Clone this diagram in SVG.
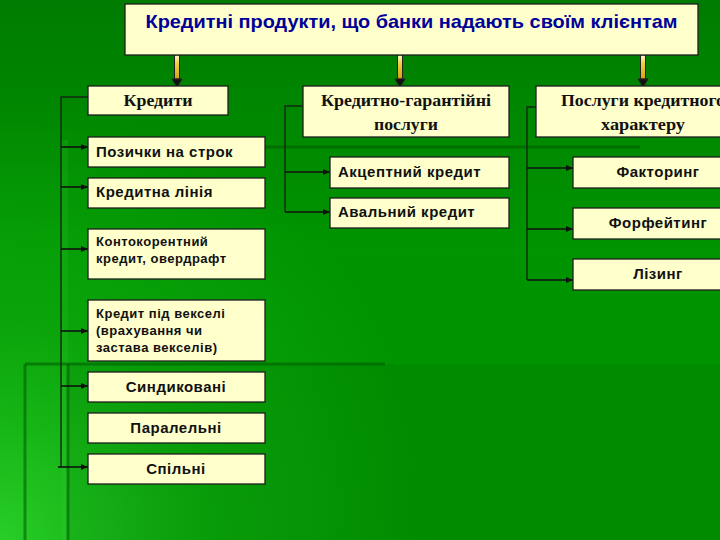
<svg xmlns="http://www.w3.org/2000/svg" width="720" height="540" viewBox="0 0 720 540">
<defs>
  <linearGradient id="bgv" x1="0" y1="0" x2="0" y2="1">
    <stop offset="0" stop-color="#007c00"/>
    <stop offset="0.45" stop-color="#009400"/>
    <stop offset="1" stop-color="#009200"/>
  </linearGradient>
  <radialGradient id="glow" cx="0" cy="540" r="440" gradientUnits="userSpaceOnUse">
    <stop offset="0" stop-color="#33dd33" stop-opacity="0.8"/>
    <stop offset="0.5" stop-color="#22cc22" stop-opacity="0.3"/>
    <stop offset="1" stop-color="#22cc22" stop-opacity="0"/>
  </radialGradient>
  <linearGradient id="shaft" x1="0" y1="0" x2="0" y2="1">
    <stop offset="0" stop-color="#fff8d0"/>
    <stop offset="0.35" stop-color="#f0d040"/>
    <stop offset="1" stop-color="#d8a010"/>
  </linearGradient>
  <marker id="ah" markerWidth="8" markerHeight="8" refX="7" refY="4" orient="auto" markerUnits="userSpaceOnUse">
    <path d="M0,1 L7,4 L0,7 Z" fill="#111"/>
  </marker>
  <style>
    .box{fill:#ffffcc;stroke:#1e1e1e;stroke-width:1.3}
    .sans{font-family:"Liberation Sans",Arial,sans-serif;font-weight:bold;fill:#111}
    .serif{font-family:"Liberation Serif","Times New Roman",serif;font-weight:bold;fill:#111;font-size:17px}
    .t14{font-size:15px;letter-spacing:0.5px}
    .t12{font-size:13px;letter-spacing:0.5px}
    .conn{fill:none;stroke:#142814;stroke-width:1.4}
    .arr{fill:none;stroke:#111;stroke-width:1.6;marker-end:url(#ah)}
    .deco{stroke:#005a00;stroke-opacity:0.55;stroke-width:3;fill:none}
  </style>
</defs>

<g id="background">
  <rect x="0" y="0" width="720" height="540" fill="url(#bgv)"/>
  <rect x="0" y="0" width="720" height="540" fill="url(#glow)"/>
  <rect x="67" y="364" width="653" height="176" fill="#004a00" opacity="0.10"/>
  <rect x="62" y="140" width="6" height="400" fill="#40d040" opacity="0.15"/>
  <line class="deco" x1="265" y1="147" x2="640" y2="147"/>
  <line class="deco" x1="25" y1="364" x2="385" y2="364"/>
  <line class="deco" x1="25" y1="364" x2="25" y2="540"/>
  <line class="deco" x1="68" y1="364" x2="68" y2="540" stroke-opacity="0.25"/>
</g>

<g id="connectors">
  <path class="conn" d="M88,97 H61 V467"/>
  <line class="arr" x1="61" y1="147" x2="88" y2="147"/>
  <line class="arr" x1="61" y1="187" x2="88" y2="187"/>
  <line class="arr" x1="61" y1="249" x2="88" y2="249"/>
  <line class="arr" x1="61" y1="331" x2="88" y2="331"/>
  <line class="arr" x1="61" y1="386" x2="88" y2="386"/>
  <line class="arr" x1="58" y1="467" x2="88" y2="467"/>
  <path class="conn" d="M303,106 H285 V212"/>
  <line class="arr" x1="285" y1="172" x2="330" y2="172"/>
  <line class="arr" x1="285" y1="212" x2="330" y2="212"/>
  <path class="conn" d="M536,107 H527 V280"/>
  <line class="arr" x1="527" y1="168" x2="573" y2="168"/>
  <line class="arr" x1="527" y1="229" x2="573" y2="229"/>
  <line class="arr" x1="527" y1="280" x2="573" y2="280"/>
  <g id="down-arrows" stroke="#222" stroke-width="1">
    <rect x="174.5" y="55" width="5" height="24" fill="url(#shaft)"/>
    <path d="M172,79 H182 L177,87 Z" fill="#111"/>
    <rect x="397.5" y="55" width="5" height="24" fill="url(#shaft)"/>
    <path d="M395,79 H405 L400,87 Z" fill="#111"/>
    <rect x="640.5" y="55" width="5" height="24" fill="url(#shaft)"/>
    <path d="M638,79 H648 L643,87 Z" fill="#111"/>
  </g>
</g>

<g id="title">
  <rect class="box" x="125" y="4" width="573" height="51"/>
  <text x="411.5" y="28" text-anchor="middle" font-family="Liberation Sans, Arial, sans-serif" font-weight="bold" font-size="19" fill="#000099" textLength="532" lengthAdjust="spacingAndGlyphs">Кредитні продукти, що банки надають своїм клієнтам</text>
</g>

<g id="credits">
  <rect class="box" x="88" y="86" width="140" height="29"/>
  <text class="serif" x="158" y="106" text-anchor="middle" textLength="69" lengthAdjust="spacingAndGlyphs">Кредити</text>
</g>
<g id="guarantee">
  <rect class="box" x="303" y="86" width="206" height="51"/>
  <text class="serif" x="406" y="106" text-anchor="middle" textLength="170" lengthAdjust="spacingAndGlyphs">Кредитно-гарантійні</text>
  <text class="serif" x="406" y="130" text-anchor="middle" textLength="64" lengthAdjust="spacingAndGlyphs">послуги</text>
</g>
<g id="services">
  <rect class="box" x="536" y="86" width="214" height="51"/>
  <text class="serif" x="561" y="106" textLength="164" lengthAdjust="spacingAndGlyphs">Послуги кредитного</text>
  <text class="serif" x="643" y="130" text-anchor="middle" textLength="84" lengthAdjust="spacingAndGlyphs">характеру</text>
</g>

<g id="term-loans">
  <rect class="box" x="88" y="137" width="177" height="30"/>
  <text class="sans t14" x="96" y="157">Позички на строк</text>
</g>
<g id="credit-line">
  <rect class="box" x="88" y="178" width="177" height="30"/>
  <text class="sans t14" x="96" y="197">Кредитна лінія</text>
</g>
<g id="overdraft">
  <rect class="box" x="88" y="229" width="177" height="50"/>
  <text class="sans t12" x="96" y="246">Контокорентний</text>
  <text class="sans t12" x="96" y="263">кредит, овердрафт</text>
</g>
<g id="bills">
  <rect class="box" x="88" y="300" width="177" height="61"/>
  <text class="sans t12" x="96" y="318">Кредит під векселі</text>
  <text class="sans t12" x="96" y="335">(врахування чи</text>
  <text class="sans t12" x="96" y="352">застава векселів)</text>
</g>
<g id="syndicated">
  <rect class="box" x="88" y="372" width="177" height="30"/>
  <text class="sans t14" x="176" y="392" text-anchor="middle">Синдиковані</text>
</g>
<g id="parallel">
  <rect class="box" x="88" y="413" width="177" height="30"/>
  <text class="sans t14" x="176" y="433" text-anchor="middle">Паралельні</text>
</g>
<g id="joint">
  <rect class="box" x="88" y="454" width="177" height="30"/>
  <text class="sans t14" x="176" y="474" text-anchor="middle">Спільні</text>
</g>

<g id="acceptance">
  <rect class="box" x="330" y="157" width="179" height="31"/>
  <text class="sans t14" x="338" y="177">Акцептний кредит</text>
</g>
<g id="aval">
  <rect class="box" x="330" y="198" width="179" height="30"/>
  <text class="sans t14" x="338" y="217">Авальний кредит</text>
</g>

<g id="factoring">
  <rect class="box" x="573" y="157" width="170" height="31"/>
  <text class="sans t14" x="658" y="177" text-anchor="middle">Факторинг</text>
</g>
<g id="forfaiting">
  <rect class="box" x="573" y="208" width="170" height="31"/>
  <text class="sans t14" x="658" y="228" text-anchor="middle">Форфейтинг</text>
</g>
<g id="leasing">
  <rect class="box" x="573" y="259" width="170" height="31"/>
  <text class="sans t14" x="658" y="279" text-anchor="middle">Лізинг</text>
</g>
</svg>
